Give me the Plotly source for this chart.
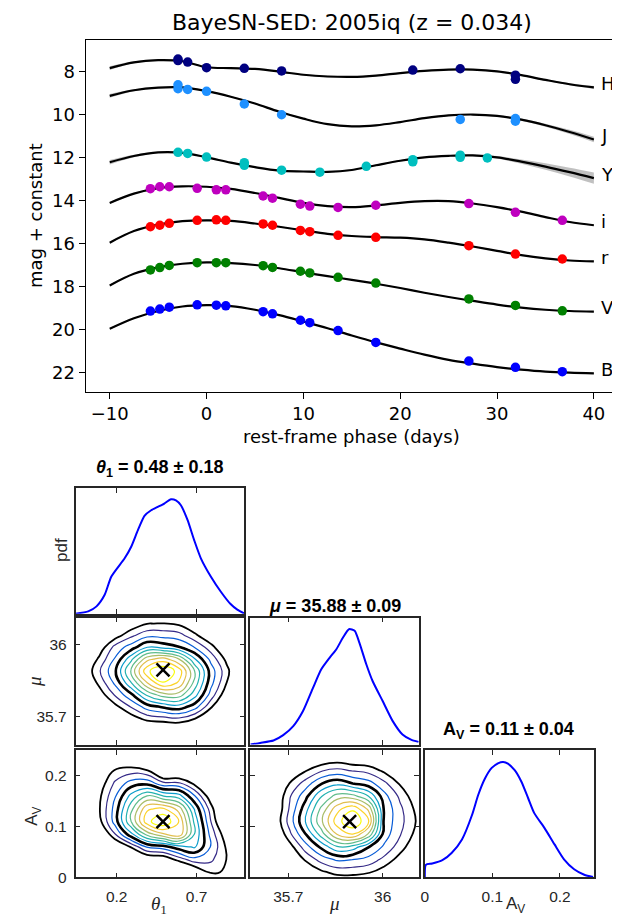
import plotly.graph_objects as go

W, H = 620, 920

# ---------------- light-curve panel data ----------------
MODEL_PHASE = [-10.0, -7.5, -5.0, -2.5, 0.0, 2.5, 5.0, 7.5, 10.0, 12.5, 15.0,
               17.5, 20.0, 22.5, 25.0, 27.5, 30.0, 32.5, 35.0, 37.5, 40.0]

H_MODEL = [7.82, 7.55, 7.45, 7.50, 7.78, 7.82, 7.86, 7.98, 8.13, 8.21, 8.23,
           8.17, 8.05, 7.95, 7.89, 7.89, 7.97, 8.15, 8.37, 8.57, 8.72]
J_MODEL = [9.11, 8.85, 8.73, 8.72, 8.89, 9.15, 9.47, 9.85, 10.17, 10.43, 10.53,
           10.48, 10.33, 10.15, 10.02, 9.98, 10.04, 10.22, 10.48, 10.79, 11.14]
Y_MODEL = [12.20, 11.91, 11.74, 11.76, 11.97, 12.22, 12.43, 12.59, 12.63, 12.65, 12.56,
           12.34, 12.13, 11.97, 11.90, 11.88, 11.97, 12.17, 12.40, 12.66, 12.94]
I_MODEL = [14.09, 13.66, 13.40, 13.32, 13.34, 13.44, 13.63, 13.86, 14.09, 14.24, 14.29,
           14.21, 14.09, 14.01, 14.01, 14.12, 14.29, 14.50, 14.75, 14.98, 15.13]
R_MODEL = [15.94, 15.40, 15.10, 14.94, 14.90, 14.93, 15.05, 15.20, 15.37, 15.53, 15.63,
           15.68, 15.71, 15.79, 15.94, 16.12, 16.32, 16.52, 16.67, 16.77, 16.81]
V_MODEL = [17.93, 17.39, 17.09, 16.92, 16.86, 16.89, 16.98, 17.13, 17.32, 17.50, 17.67,
           17.85, 18.05, 18.27, 18.47, 18.65, 18.82, 18.96, 19.06, 19.12, 19.15]
B_MODEL = [19.95, 19.46, 19.12, 18.91, 18.85, 18.89, 19.06, 19.31, 19.61, 19.92, 20.26,
           20.58, 20.87, 21.15, 21.39, 21.57, 21.73, 21.85, 21.94, 21.99, 22.02]

H_SIG = [0.09, 0.05, 0.03, 0.03, 0.03, 0.03, 0.03, 0.03, 0.03, 0.03, 0.03,
         0.03, 0.03, 0.03, 0.03, 0.03, 0.03, 0.03, 0.04, 0.05, 0.07]
J_SIG = [0.09, 0.05, 0.03, 0.03, 0.03, 0.03, 0.03, 0.03, 0.03, 0.03, 0.03,
         0.03, 0.03, 0.03, 0.03, 0.03, 0.04, 0.05, 0.07, 0.10, 0.13]
Y_SIG = [0.10, 0.06, 0.03, 0.03, 0.03, 0.03, 0.03, 0.03, 0.03, 0.03, 0.03,
         0.03, 0.03, 0.03, 0.03, 0.04, 0.06, 0.10, 0.15, 0.20, 0.26]
OPT_SIG = [0.04, 0.025, 0.02, 0.02, 0.02, 0.02, 0.02, 0.02, 0.02, 0.02, 0.02,
           0.02, 0.02, 0.02, 0.02, 0.02, 0.02, 0.02, 0.02, 0.02, 0.025]

OPT_PHASE = [-5.8, -4.83, -3.85, -0.97, 1.01, 1.99, 5.84, 6.81, 9.69, 10.66,
             13.58, 17.48, 27.09, 31.9, 36.74]
I_MAG = [13.43, 13.34, 13.34, 13.41, 13.48, 13.48, 13.77, 13.87, 14.15, 14.24,
         14.30, 14.20, 14.12, 14.53, 14.90]
R_MAG = [15.20, 15.13, 15.04, 14.90, 14.88, 14.90, 15.07, 15.13, 15.37, 15.43,
         15.60, 15.69, 16.08, 16.47, 16.70]
V_MAG = [17.21, 17.10, 17.00, 16.87, 16.87, 16.87, 17.01, 17.09, 17.27, 17.35,
         17.55, 17.82, 18.56, 18.86, 19.11]
B_MAG = [19.12, 19.03, 18.94, 18.83, 18.85, 18.88, 19.15, 19.25, 19.55, 19.66,
         20.03, 20.58, 21.45, 21.74, 21.94]

H_PHASE = [-2.95, -2.95, -1.95, 0.0, 3.9, 7.75, 21.3, 26.2, 31.9, 31.9]
H_MAG = [7.40, 7.47, 7.54, 7.80, 7.83, 7.95, 7.91, 7.85, 8.15, 8.34]
J_PHASE = [-2.95, -2.95, -1.95, 0.0, 3.9, 7.75, 26.2, 31.9, 31.9]
J_MAG = [8.60, 8.78, 8.81, 8.90, 9.49, 9.99, 10.21, 10.17, 10.29]
Y_PHASE = [-2.95, -1.95, 0.0, 3.9, 3.9, 7.75, 11.7, 16.5, 21.3, 21.3, 26.2, 26.2, 29.0]
Y_MAG = [11.74, 11.79, 11.96, 12.22, 12.34, 12.57, 12.66, 12.39, 12.08, 12.18,
         11.87, 11.97, 12.00]

BAND_NAMES = ["H", "J", "Y", "i", "r", "V", "B"]
BAND_COLORS = ["#000080", "#1E90FF", "#00BFBF", "#BF00BF", "#FF0000", "#008000", "#0000FF"]

TITLE = "BayeSN-SED: 2005iq (z = 0.034)"
X_TICKS = [-10, 0, 10, 20, 30, 40]
Y_TICKS = [8, 10, 12, 14, 16, 18, 20, 22]

# ---------------- corner plot data ----------------
THETA_PDF_X = [-0.057, 0.022, 0.074, 0.125, 0.167, 0.25, 0.291, 0.333, 0.374, 0.416, 0.457,
               0.498, 0.54, 0.571, 0.602, 0.644, 0.685, 0.727, 0.789, 0.851, 0.913, 0.955, 1.0]
THETA_PDF_Y = [0.0, 0.02, 0.064, 0.165, 0.325, 0.484, 0.585, 0.73, 0.855, 0.904, 0.933,
               0.962, 1.0, 0.99, 0.947, 0.817, 0.643, 0.484, 0.325, 0.194, 0.084, 0.035, 0.0]
MU_PDF_X = [35.579, 35.611, 35.653, 35.684, 35.716, 35.747, 35.779, 35.805, 35.832, 35.853,
            35.874, 35.893, 35.911, 35.926, 35.948, 35.968, 36.0, 36.032, 36.063, 36.09, 36.114]
MU_PDF_Y = [0.0, 0.014, 0.035, 0.081, 0.159, 0.29, 0.493, 0.652, 0.754, 0.826,
            0.928, 1.0, 0.986, 0.884, 0.696, 0.551, 0.377, 0.203, 0.087, 0.043, 0.023]
AV_PDF_X = [0.0, 0.0015, 0.011, 0.026, 0.040, 0.055, 0.070, 0.079, 0.089, 0.099, 0.109, 0.116,
            0.123, 0.133, 0.143, 0.153, 0.162, 0.177, 0.192, 0.206, 0.221, 0.236, 0.249]
AV_PDF_Y = [0.0, 0.109, 0.120, 0.149, 0.214, 0.329, 0.543, 0.714, 0.857, 0.949, 0.991, 1.0,
            0.986, 0.929, 0.829, 0.686, 0.557, 0.429, 0.286, 0.157, 0.071, 0.023, 0.003]

POST_MEAN_THETA = 0.49
POST_MEAN_MU = 35.895
POST_MEAN_AV = 0.11

TITLE_THETA = "<b><i>θ</i><sub>1</sub> = 0.48 ± 0.18</b>"
TITLE_MU = "<b><i>μ</i> = 35.88 ± 0.09</b>"
TITLE_AV = "<b>A<sub>V</sub> = 0.11 ± 0.04</b>"

# density grids (contour level index)
THETA_GRID = [-0.01, 0.09, 0.19, 0.29, 0.39, 0.49, 0.59, 0.69, 0.79, 0.89, 0.99]
MU_GRID_A = [35.64, 35.69, 35.74, 35.79, 35.84, 35.89, 35.94, 35.99, 36.04, 36.09, 36.14]
Z_THETA_MU = [
    [-3, -3, -2.75, -1.57, -0.8, -0.77, -0.66, -1.51, -3, -3, -3],
    [-3, -2.42, -1.1, 0.4, 1.41, 1.68, 1.9, 1.05, -0.77, -2.8, -3],
    [-2.77, -0.9, 0.67, 2.09, 3.51, 4.2, 4.6, 3.49, 1.23, -1.08, -3],
    [-1.54, 0.34, 2.14, 3.76, 6.2, 7.55, 7.57, 5.4, 2.57, 0.18, -2.15],
    [-0.61, 1.28, 3.21, 5.92, 8.94, 10.93, 9.85, 6.57, 3.34, 0.96, -1.36],
    [-0.11, 1.86, 3.84, 7.23, 10.76, 12.0, 10.6, 6.92, 3.54, 1.32, -0.89],
    [-0.7, 1.22, 3.12, 5.71, 8.66, 9.48, 8.03, 5.06, 2.68, 0.67, -1.48],
    [-1.56, 0.26, 2.37, 3.48, 5.07, 4.67, 4.11, 2.94, 1.43, -0.37, -2.35],
    [-2.66, -0.64, 0.47, 1.75, 2.68, 2.63, 2.4, 1.26, -0.06, -1.6, -3],
    [-3, -2.54, -1.29, 0.17, 0.97, 1.04, 0.78, -0.18, -1.73, -3, -3],
    [-3, -3, -2.7, -1.47, -0.35, -0.54, -0.83, -1.75, -2.9, -3, -3],
]

AV_GRID = [-0.015, 0.01, 0.035, 0.06, 0.085, 0.11, 0.135, 0.16, 0.185, 0.21, 0.235, 0.26]
Z_THETA_AV = [
    [-3, -3, -3, -3, -3, -3, -3, -3, -2, -1.2, -1.5],
    [-3, -3, -3, -3, -3, -3, -2, -0.32, 1.2, 0.85, -1.2],
    [-3, -3, -3, -2, -0.23, -0.03, 1.42, 2.6, 2.2, 0.95, -2],
    [-3, -2.86, -0.5, 1.1, 3.08, 3.53, 4.6, 5.13, 2.91, 0.78, -1.46],
    [-3, -0.79, 1.95, 4.68, 7.4, 8.84, 9.76, 5.85, 2.61, 0.16, -2.4],
    [-2.3, 0.58, 3.46, 6.97, 10.63, 12.0, 9.97, 5.62, 2.0, -1.2, -3],
    [-1.84, 0.87, 3.41, 6.63, 9.85, 10.22, 8.6, 4.8, 1.47, -1.71, -3],
    [-1.75, 0.73, 2.92, 5.36, 7.08, 6.05, 5.48, 3.05, 0.24, -2.72, -3],
    [-1.86, 0.27, 2.2, 3.48, 3.73, 2.37, 2.25, 0.74, -1.59, -3, -3],
    [-2.35, -0.33, 1.16, 1.53, 1.18, -0.97, -0.91, -2, -3, -3, -3],
    [-2.97, -1.14, -0.66, -0.49, -1.34, -3, -3, -3, -3, -3, -3],
    [-3, -3, -2.7, -3, -3, -3, -3, -3, -3, -3, -3],
]

MU_GRID_C = [35.605, 35.655, 35.705, 35.755, 35.805, 35.855, 35.905, 35.955,
             36.005, 36.055, 36.105, 36.155]
Z_MU_AV = [
    [-3, -3, -3, -2, -0.87, -0.33, -0.27, -0.42, -0.94, -2, -3, -3],
    [-3, -3, -1.78, -0.37, 0.76, 1.34, 1.34, 1.11, 0.41, -0.63, -1.75, -3],
    [-3, -2.4, -0.59, 1.18, 2.42, 3.15, 2.99, 2.65, 1.69, 0.54, -0.69, -2.0],
    [-3, -1.55, 0.54, 2.55, 4.24, 5.87, 5.58, 4.06, 2.81, 1.48, 0.15, -1.19],
    [-2.86, -0.52, 1.77, 3.96, 6.47, 9.05, 9.98, 7.85, 3.53, 2.1, 0.72, -0.66],
    [-2.47, -0.01, 2.45, 5.02, 7.79, 10.56, 12.0, 10.1, 3.71, 2.36, 1.0, -0.36],
    [-2.66, -0.24, 2.15, 4.6, 7.23, 9.64, 10.82, 8.77, 3.82, 2.25, 0.79, -0.62],
    [-3, -0.3, 1.9, 3.66, 5.92, 7.44, 7.37, 6.0, 3.37, 1.77, 0.3, -1.12],
    [-3, -2, 1.1, 2.46, 3.93, 4.69, 4.0, 3.43, 2.26, 0.89, -0.52, -1.9],
    [-3, -2.5, -0.78, 0.94, 1.94, 2.33, 1.95, 1.66, 0.8, -0.34, -1.6, -3],
    [-3, -3, -2.6, -0.92, -0.06, 0.26, -0.05, -0.17, -0.79, -1.9, -3, -3],
    [-3, -3, -3, -3, -1.9, -2.3, -2.05, -2.3, -3, -3, -3, -3],
]

PARULA = [[0.0, "#352A87"], [0.125, "#0363E1"], [0.25, "#1485D4"], [0.375, "#06A7C6"],
          [0.5, "#38B99E"], [0.625, "#92BF73"], [0.75, "#D9BA56"], [0.875, "#FCCE2E"],
          [1.0, "#F9FB0E"]]

# ---------------- figure ----------------
fig = go.Figure()

models = [H_MODEL, J_MODEL, Y_MODEL, I_MODEL, R_MODEL, V_MODEL, B_MODEL]
sigmas = [H_SIG, J_SIG, Y_SIG, OPT_SIG, OPT_SIG, OPT_SIG, OPT_SIG]
phases = [H_PHASE, J_PHASE, Y_PHASE, OPT_PHASE, OPT_PHASE, OPT_PHASE, OPT_PHASE]
mags = [H_MAG, J_MAG, Y_MAG, I_MAG, R_MAG, V_MAG, B_MAG]

top_font = dict(family="DejaVu Sans", size=18, color="black")

for name, col, mod, sig, ph, mg in zip(BAND_NAMES, BAND_COLORS, models, sigmas, phases, mags):
    lo = [m - s for m, s in zip(mod, sig)]
    hi = [m + s for m, s in zip(mod, sig)]
    fig.add_trace(go.Scatter(x=MODEL_PHASE, y=lo, mode="lines",
                             line=dict(color="rgba(0,0,0,0)", width=0, shape="spline"),
                             showlegend=False, hoverinfo="skip", xaxis="x", yaxis="y"))
    fig.add_trace(go.Scatter(x=MODEL_PHASE, y=hi, mode="lines", fill="tonexty",
                             fillcolor="rgba(150,150,150,0.6)",
                             line=dict(color="rgba(0,0,0,0)", width=0, shape="spline"),
                             showlegend=False, hoverinfo="skip", xaxis="x", yaxis="y"))
    fig.add_trace(go.Scatter(x=MODEL_PHASE, y=mod, mode="lines",
                             line=dict(color="black", width=2.2, shape="spline"),
                             showlegend=False, xaxis="x", yaxis="y"))
    fig.add_trace(go.Scatter(x=ph, y=mg, mode="markers",
                             marker=dict(color=col, size=9.5, line=dict(width=0)),
                             showlegend=False, xaxis="x", yaxis="y"))
    fig.add_annotation(x=40.5, y=mod[-1], xref="x", yref="y", text=name,
                       showarrow=False, xanchor="left", yanchor="middle", yshift=4,
                       font=top_font)

# pdf curves
def pdf_trace(x, y, ax):
    return go.Scatter(x=x, y=y, mode="lines",
                      line=dict(color="#0000FF", width=2, shape="spline", smoothing=0.6),
                      showlegend=False, xaxis="x" + ax, yaxis="y" + ax)

fig.add_trace(pdf_trace(THETA_PDF_X, THETA_PDF_Y, "2"))
fig.add_trace(pdf_trace(MU_PDF_X, MU_PDF_Y, "4"))
fig.add_trace(pdf_trace(AV_PDF_X, AV_PDF_Y, "7"))

# contours
def contour_traces(xg, yg, z, ax):
    out = []
    out.append(go.Contour(x=xg, y=yg, z=z, xaxis="x" + ax, yaxis="y" + ax,
                          contours=dict(start=2, end=11, size=1, coloring="lines"),
                          colorscale=PARULA, showscale=False,
                          line=dict(width=1.2, smoothing=1.3), hoverinfo="skip"))
    out.append(go.Contour(x=xg, y=yg, z=z, xaxis="x" + ax, yaxis="y" + ax,
                          contours=dict(start=1, end=1, size=1, coloring="none"),
                          showscale=False,
                          line=dict(width=1.8, color="black", smoothing=1.3), hoverinfo="skip"))
    out.append(go.Contour(x=xg, y=yg, z=z, xaxis="x" + ax, yaxis="y" + ax,
                          contours=dict(start=4, end=4, size=1, coloring="none"),
                          showscale=False,
                          line=dict(width=2.6, color="black", smoothing=1.3), hoverinfo="skip"))
    return out

for t in contour_traces(THETA_GRID, MU_GRID_A, Z_THETA_MU, "3"):
    fig.add_trace(t)
for t in contour_traces(THETA_GRID, AV_GRID, Z_THETA_AV, "5"):
    fig.add_trace(t)
for t in contour_traces(MU_GRID_C, AV_GRID, Z_MU_AV, "6"):
    fig.add_trace(t)

xmark = dict(symbol="x-thin", size=13, line=dict(width=2.5, color="black"), color="black")
fig.add_trace(go.Scatter(x=[POST_MEAN_THETA], y=[POST_MEAN_MU], mode="markers", marker=xmark,
                         showlegend=False, xaxis="x3", yaxis="y3"))
fig.add_trace(go.Scatter(x=[POST_MEAN_THETA], y=[POST_MEAN_AV], mode="markers", marker=xmark,
                         showlegend=False, xaxis="x5", yaxis="y5"))
fig.add_trace(go.Scatter(x=[POST_MEAN_MU], y=[POST_MEAN_AV], mode="markers", marker=xmark,
                         showlegend=False, xaxis="x6", yaxis="y6"))

# ---------------- layout ----------------
def px_x(p):
    return p / W

def px_y(p):
    return 1 - p / H

corner_font = dict(family="Liberation Sans", size=15.5, color="#262626")

layout = dict(
    width=W, height=H, margin=dict(l=0, r=0, t=0, b=0),
    paper_bgcolor="white", plot_bgcolor="white", showlegend=False,
    xaxis=dict(domain=[px_x(74), px_x(610)], range=[-12.5, 42.5], anchor="y",
               tickvals=X_TICKS, ticks="outside", ticklen=6, tickwidth=1, tickcolor="black",
               showline=True, mirror=True, linecolor="black", linewidth=1,
               showgrid=False, zeroline=False, tickfont=top_font),
    yaxis=dict(domain=[px_y(387), px_y(32)], range=[22.87, 6.5], anchor="x",
               tickvals=Y_TICKS, ticks="outside", ticklen=6, tickwidth=1, tickcolor="black",
               showline=True, mirror=True, linecolor="black", linewidth=1,
               showgrid=False, zeroline=False, tickfont=top_font),
)

cols = [[px_x(64), px_x(234)], [px_x(240), px_x(409.5)], [px_x(415.5), px_x(585.5)]]
rows = [[px_y(611), px_y(484)], [px_y(743), px_y(615)], [px_y(877), px_y(749)]]

TH_RANGE = [-0.057, 1.0]
MU_RANGE = [35.58, 36.115]
AV_RANGE = [0.0, 0.25]
PDF_RANGE = [0.0, 1.1]
TH_TICKS = [0.2, 0.7]
MU_TICKS = [35.7, 36.0]
AV_TICKS = [0.0, 0.1, 0.2]


def cax(domain, rng, tickvals, ticktext, labels, anchor, ticks=True):
    d = dict(domain=domain, range=rng, anchor=anchor,
             showline=True, mirror="allticks" if ticks else True,
             linecolor="#262626", linewidth=1.6,
             showgrid=False, zeroline=False, tickfont=corner_font,
             ticklabelstandoff=4)
    if ticks:
        d.update(tickvals=tickvals, ticktext=ticktext, ticks="inside", ticklen=5,
                 tickwidth=1, tickcolor="#262626", showticklabels=labels)
    else:
        d.update(ticks="", showticklabels=False)
    return d

th_txt = ["0.2", "0.7"]
mu_txt = ["35.7", "36"]
av_txt = ["0", "0.1", "0.2"]

layout["xaxis2"] = cax(cols[0], TH_RANGE, TH_TICKS, th_txt, False, "y2")
layout["yaxis2"] = cax(rows[0], PDF_RANGE, None, None, False, "x2", ticks=False)
layout["xaxis3"] = cax(cols[0], TH_RANGE, TH_TICKS, th_txt, False, "y3")
layout["yaxis3"] = cax(rows[1], MU_RANGE, MU_TICKS, mu_txt, True, "x3")
layout["xaxis4"] = cax(cols[1], MU_RANGE, MU_TICKS, mu_txt, False, "y4")
layout["yaxis4"] = cax(rows[1], PDF_RANGE, None, None, False, "x4", ticks=False)
layout["xaxis5"] = cax(cols[0], TH_RANGE, TH_TICKS, th_txt, True, "y5")
layout["yaxis5"] = cax(rows[2], AV_RANGE, AV_TICKS, av_txt, True, "x5")
layout["xaxis6"] = cax(cols[1], MU_RANGE, MU_TICKS, mu_txt, True, "y6")
layout["yaxis6"] = cax(rows[2], AV_RANGE, AV_TICKS, av_txt, False, "x6")
layout["xaxis7"] = cax(cols[2], AV_RANGE, AV_TICKS, av_txt, True, "y7")
layout["yaxis7"] = cax(rows[2], PDF_RANGE, None, None, False, "x7", ticks=False)

fig.update_layout(**layout)

# ---------------- text ----------------
def ann(x, y, text, font, angle=0, xanchor="center", yanchor="middle"):
    fig.add_annotation(x=px_x(x), y=px_y(y), xref="paper", yref="paper", text=text,
                       showarrow=False, font=font, textangle=angle,
                       xanchor=xanchor, yanchor=yanchor)

ann(342, 15, TITLE, dict(family="DejaVu Sans", size=22, color="black"))
ann(342, 432, "rest-frame phase (days)", top_font)
ann(23, 209, "mag + constant", top_font, angle=-90)

lab_font = dict(family="Liberation Sans", size=17, color="#262626")
ital_font = dict(family="Liberation Serif", size=19, color="#262626")
title_font = dict(family="Liberation Sans", size=18, color="black")

ann(149, 465, TITLE_THETA, title_font)
ann(325, 603, TITLE_MU, title_font)
ann(500, 729, TITLE_AV, title_font)

ann(50, 547, "pdf", lab_font, angle=-90)
ann(22, 679, "<i>μ</i>", ital_font, angle=-90)
ann(21, 815, "A<sub>V</sub>", lab_font, angle=-90)
ann(148, 905, "<i>θ</i><sub>1</sub>", ital_font)
ann(325, 903, "<i>μ</i>", ital_font)
ann(507, 905, "A<sub>V</sub>", lab_font)

fig.write_html("out.html")
